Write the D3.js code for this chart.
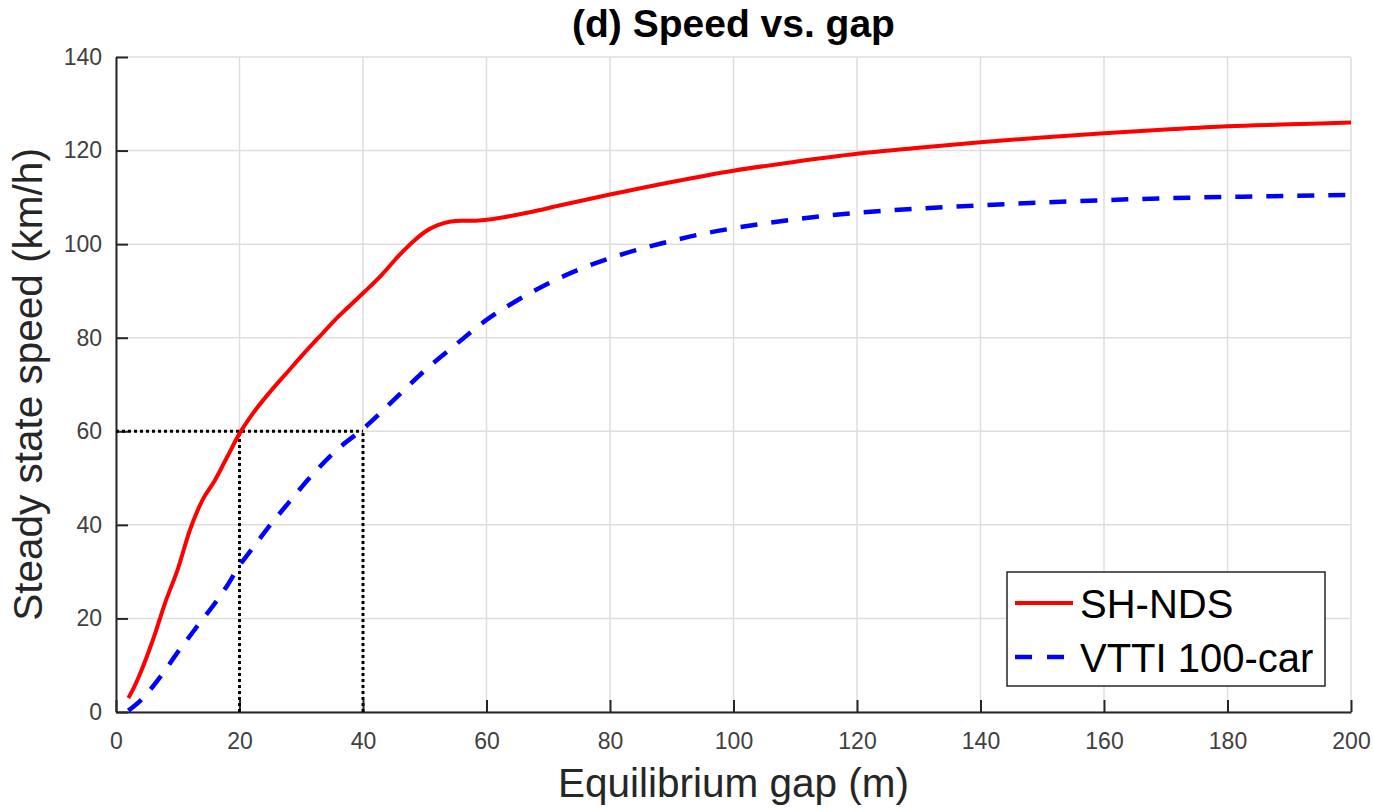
<!DOCTYPE html>
<html>
<head>
<meta charset="utf-8">
<script src="https://cdn.jsdelivr.net/npm/d3@7"></script>
<style>
  body { margin: 0; background: #fff; }
  svg text { font-family: "Liberation Sans", Arial, Helvetica, sans-serif; }
</style>
</head>
<body>
<div class="chart"></div>
<script>
// equilibrium gap (m) and steady state speed (km/h)
var shGap   = [2, 3, 4, 6, 8, 10, 12, 14, 16, 18, 20, 22, 25, 28, 30, 33, 36, 40, 43, 46, 48, 50, 52, 54, 56, 58, 60, 63, 67, 72, 80, 90, 100, 110, 120, 130, 140, 150, 160, 170, 180, 190, 200];
var shSpeed = [3, 5.5, 8.5, 15.5, 23.5, 30.5, 39, 45.3, 49.5, 54.5, 59.5, 63.5, 68.5, 73, 76, 80.3, 84.5, 89.5, 93.4, 97.8, 100.4, 102.6, 104, 104.8, 105, 105, 105.2, 105.8, 106.8, 108.3, 110.6, 113.3, 115.7, 117.6, 119.3, 120.6, 121.8, 122.8, 123.7, 124.5, 125.2, 125.6, 126.0];

var vtGap   = [2, 4, 6, 8, 10, 12, 14, 16, 18, 20, 22, 25, 28, 32, 36, 40, 45, 50, 55, 60, 65, 70, 75, 80, 85, 90, 95, 100, 110, 120, 130, 140, 150, 160, 170, 180, 190, 200];
var vtSpeed = [0.3, 2.5, 5.5, 9, 12.8, 16.3, 19.8, 23.2, 27, 31.3, 34.8, 40, 44.8, 51, 56.3, 60.5, 66.7, 73, 78.5, 83.8, 88, 91.6, 94.6, 97, 99, 100.7, 102.2, 103.4, 105.3, 106.7, 107.6, 108.3, 108.9, 109.4, 109.8, 110.1, 110.3, 110.5];

// dotted guide lines (gap, speed) pairs
var guideLines = [
    [[0, 60], [40, 60]],
    [[20, 0], [20, 60]],
    [[40, 0], [40, 60]]
];

var xTicks = [0, 20, 40, 60, 80, 100, 120, 140, 160, 180, 200];
var yTicks = [0, 20, 40, 60, 80, 100, 120, 140];
var seriesNames = ["SH-NDS", "VTTI 100-car"];

var width = 1373, height = 809;
var margin = { top: 57, right: 22, bottom: 97, left: 116 };
var plotW = width - margin.left - margin.right;
var plotH = height - margin.top - margin.bottom;

var svg = d3.select(".chart")
    .append("svg")
    .attr("width", width)
    .attr("height", height);

var g = svg.append("g")
    .attr("transform", "translate(" + margin.left + "," + margin.top + ")");

var x = d3.scaleLinear().domain([0, 200]).range([0, plotW]);
var y = d3.scaleLinear().domain([0, 140]).range([plotH, 0]);

// grid
g.selectAll(".vgrid")
    .data(xTicks)
    .enter()
    .append("line")
    .attr("x1", function (d) { return x(d); })
    .attr("x2", function (d) { return x(d); })
    .attr("y1", 0)
    .attr("y2", plotH)
    .style("stroke", "#dedede")
    .style("stroke-width", 1.5);

g.selectAll(".hgrid")
    .data(yTicks)
    .enter()
    .append("line")
    .attr("x1", 0)
    .attr("x2", plotW)
    .attr("y1", function (d) { return y(d); })
    .attr("y2", function (d) { return y(d); })
    .style("stroke", "#dedede")
    .style("stroke-width", 1.5);

// axes, ticks pointing inward like matlab
var xAxis = d3.axisBottom(x).tickValues(xTicks).tickSize(-12).tickSizeOuter(0).tickPadding(21);
var yAxis = d3.axisLeft(y).tickValues(yTicks).tickSize(-12).tickSizeOuter(0).tickPadding(14);

var gx = g.append("g")
    .attr("transform", "translate(0," + plotH + ")")
    .call(xAxis);
var gy = g.append("g").call(yAxis);

[gx, gy].forEach(function (ax) {
    ax.selectAll("path, line").style("stroke", "#262626").style("stroke-width", 2);
    ax.selectAll("text").style("font-size", "23px").style("fill", "#404040");
});

// dotted guides
var guide = d3.line()
    .x(function (d) { return x(d[0]); })
    .y(function (d) { return y(d[1]); });

g.selectAll(".guide")
    .data(guideLines)
    .enter()
    .append("path")
    .attr("d", guide)
    .style("fill", "none")
    .style("stroke", "#000")
    .style("stroke-width", 3)
    .style("stroke-dasharray", "3,3");

// curves
var curve = d3.line()
    .x(function (d) { return x(d[0]); })
    .y(function (d) { return y(d[1]); })
    .curve(d3.curveMonotoneX);

var shData = d3.zip(shGap, shSpeed);
var vtData = d3.zip(vtGap, vtSpeed);

g.append("path")
    .attr("d", curve(vtData))
    .style("fill", "none")
    .style("stroke", "#0000ff")
    .style("stroke-width", 4.5)
    .style("stroke-dasharray", "17,14");

g.append("path")
    .attr("d", curve(shData))
    .style("fill", "none")
    .style("stroke", "#ff0000")
    .style("stroke-width", 4);

// title and labels
svg.append("text")
    .attr("x", margin.left + plotW / 2)
    .attr("y", 37)
    .attr("text-anchor", "middle")
    .style("font-size", "39px")
    .style("font-weight", "bold")
    .style("fill", "#000")
    .text("(d) Speed vs. gap");

svg.append("text")
    .attr("x", margin.left + plotW / 2)
    .attr("y", 797)
    .attr("text-anchor", "middle")
    .style("font-size", "40.5px")
    .style("fill", "#262626")
    .text("Equilibrium gap (m)");

svg.append("text")
    .attr("transform", "translate(42," + (margin.top + plotH / 2) + ") rotate(-90)")
    .attr("text-anchor", "middle")
    .style("font-size", "40.5px")
    .style("fill", "#262626")
    .text("Steady state speed (km/h)");

// legend
var legend = svg.append("g").attr("transform", "translate(1007,572)");

legend.append("rect")
    .attr("width", 318)
    .attr("height", 114)
    .style("fill", "#fff")
    .style("stroke", "#262626")
    .style("stroke-width", 1.5);

var legendStyles = [
    { color: "#ff0000", dash: null, w: 4 },
    { color: "#0000ff", dash: "17,15", w: 4.5 }
];

seriesNames.forEach(function (name, i) {
    var cy = 31 + i * 54;
    legend.append("line")
        .attr("x1", 8)
        .attr("x2", 66)
        .attr("y1", cy)
        .attr("y2", cy)
        .style("stroke", legendStyles[i].color)
        .style("stroke-width", legendStyles[i].w)
        .style("stroke-dasharray", legendStyles[i].dash);
    legend.append("text")
        .attr("x", 73)
        .attr("y", cy + 14.5)
        .style("font-size", "40px")
        .style("fill", "#000")
        .text(name);
});
</script>
</body>
</html>
